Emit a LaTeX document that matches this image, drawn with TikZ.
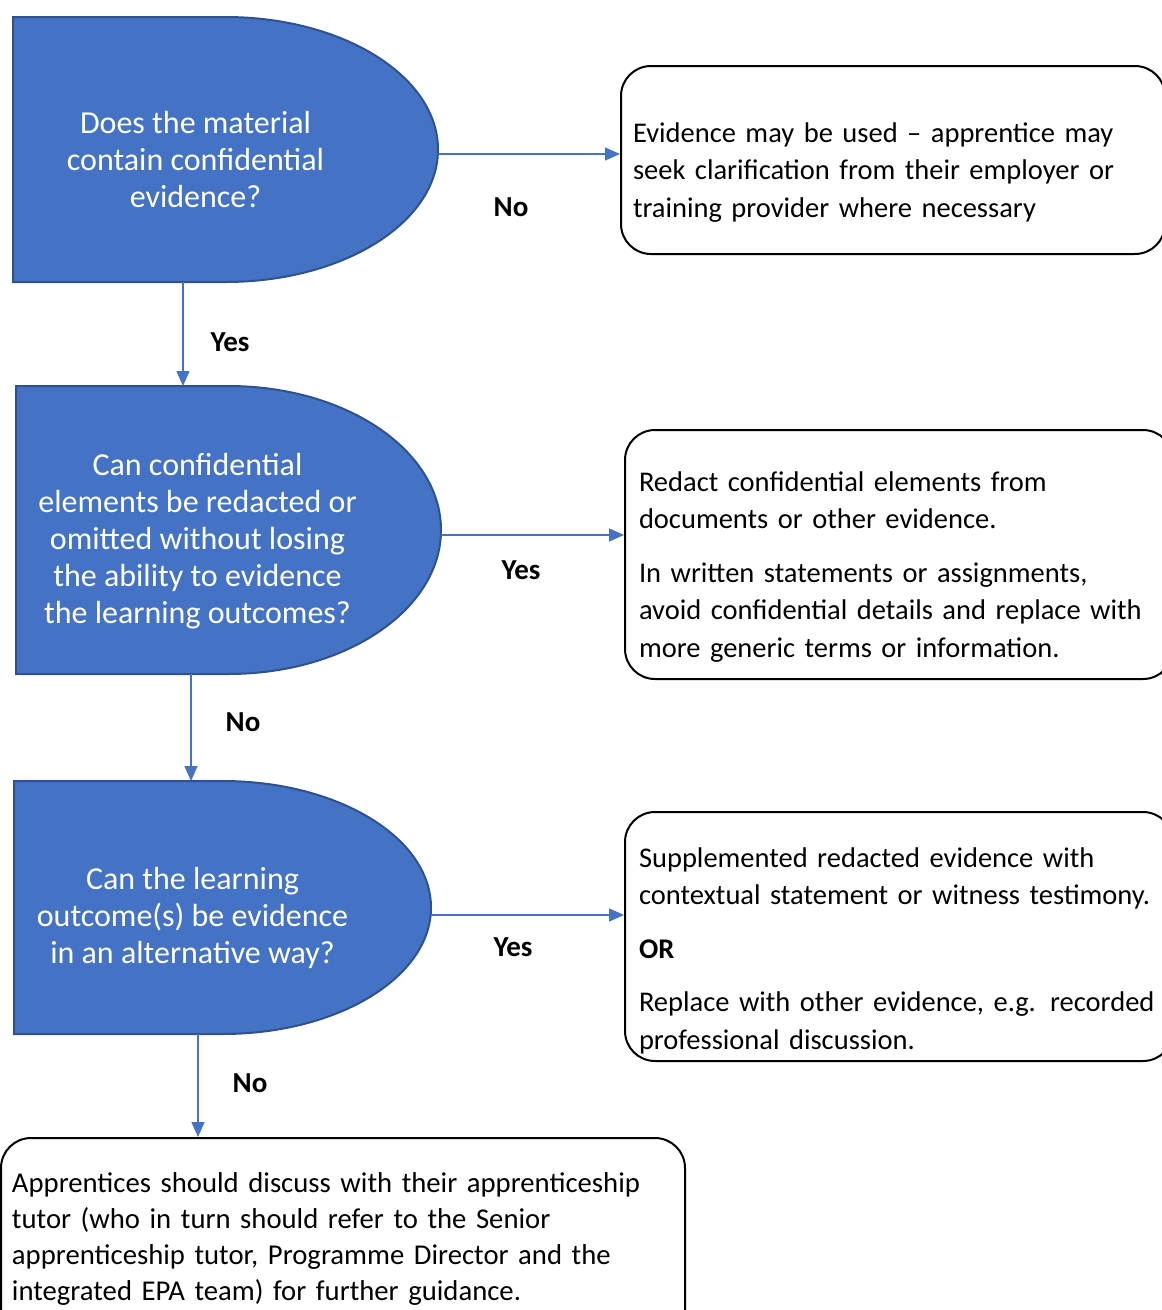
\documentclass[tikz,border=0pt]{standalone}
\usepackage{fontspec}
\setmainfont{Carlito}
\usetikzlibrary{positioning,arrows.meta,calc,backgrounds}
\definecolor{flowblue}{HTML}{4472C4}
\definecolor{flowedge}{HTML}{2F528F}

\begin{document}
\begin{tikzpicture}
    [x=1pt,y=1pt,
     txt/.style={font=\fontsize{28.5}{37.5}\selectfont},
     dq/.style 2 args={minimum width=#1,minimum height=#2,
                       inner sep=0,outer sep=0},
     qtext/.style={font=\fontsize{32}{37}\selectfont,text=white,align=center},
     dshape/.style={fill=flowblue,draw=flowedge,line width=2},
     rbox/.style={txt,draw,line width=2,rounded corners=30,anchor=north west,
                  align=left,text width=520,inner xsep=12,inner ysep=0},
     lowered/.style={execute at begin node={\rule{0pt}{#1}}},
     yn/.style={font=\fontsize{29}{32}\selectfont\bfseries},
     arr/.style={draw=flowblue,line width=1.5,
                 -{Triangle[length=15,width=13]},color=flowblue}]
    \useasboundingbox (0,0) rectangle (1162,-1310);
    \clip (0,0) rectangle (1162,-1310);

    % decision shapes
    \node[dq={425}{265}] (d1) at (225.5,-149.5)
      [label={[qtext,xshift=-30,yshift=-10]center:{Does the material\\
        contain confidential\\ evidence?}}] {};
    \node[dq={425}{288}] (d2) at (228.5,-530)
      [label={[qtext,xshift=-31,yshift=-11]center:{Can confidential\\
        elements be redacted or\\ omitted without losing\\
        the ability to evidence\\ the learning outcomes?}}] {};
    \node[dq={417}{253}] (d3) at (222.5,-907.5)
      [label={[qtext,xshift=-30,yshift=-10]center:{Can the learning\\
        outcome(s) be evidence\\ in an alternative way?}}] {};

    \begin{scope}[on background layer]
      \foreach \q in {d1,d2,d3}
        \draw[dshape] let \p1=($(\q.north east)-(\q.south west)$) in
          (\q.south west) -- (\q.north west) -- (\q.north)
          arc[start angle=90,end angle=-90,x radius=0.5*\x1,y radius=0.5*\y1]
          -- cycle;
    \end{scope}

    % outcome boxes
    \node[rbox,lowered=44pt,minimum height=188] (r1) at (620,-65)
      {Evidence may be used -- apprentice may\\
       seek clarification from their employer or\\
       training provider where necessary};
    \node[rbox,lowered=44pt,minimum height=249,inner xsep=14] (r2) at (624,-429)
      {Redact confidential elements from\\ documents or other evidence.\\[16pt]
       In written statements or assignments,\\
       avoid confidential details and replace with\\
       more generic terms or information.};
    \node[rbox,lowered=48pt,minimum height=249,inner xsep=14] (r3) at (624,-811)
      {Supplemented redacted evidence with\\
       contextual statement or witness testimony.\\[16pt]
       \textbf{OR}\\[16pt]
       Replace with other evidence, e.g. recorded\\
       professional discussion.};
    \node[rbox,minimum height=202,text width=662,inner xsep=11,
          font=\fontsize{28.7}{36}\selectfont] (r4) at (0,-1137)
      {Apprentices should discuss with their apprenticeship\\
       tutor (who in turn should refer to the Senior\\
       apprenticeship tutor, Programme Director and the\\
       integrated EPA team) for further guidance.};

    % connectors
    \draw[arr] ([yshift=-4.5]d1.east) -- ([yshift=-4.5]d1.east -| r1.west);
    \draw[arr] ([yshift=-5]d2.east) -- ([yshift=-5]d2.east -| r2.west);
    \draw[arr] ([yshift=-7.5]d3.east) -- ([yshift=-7.5]d3.east -| r3.west);
    \draw[arr] ([xshift=-42.5]d1.south) -- ([xshift=-42.5]d1.south |- d2.north);
    \draw[arr] ([xshift=-37.5]d2.south) -- ([xshift=-37.5]d2.south |- d3.north);
    \draw[arr] ([xshift=-24.5]d3.south) -- ([xshift=-24.5]d3.south |- r4.north);

    % answers
    \node[yn] (no1) at (511,-207) {No};
    \node[yn] (yes1) at (230,-342) {Yes};
    \node[yn] (yes2) at (521,-570) {Yes};
    \node[yn] (no2) at (243,-722) {No};
    \node[yn] (yes3) at (513,-947) {Yes};
    \node[yn] (no3) at (250,-1083) {No};
\end{tikzpicture}
\end{document}
